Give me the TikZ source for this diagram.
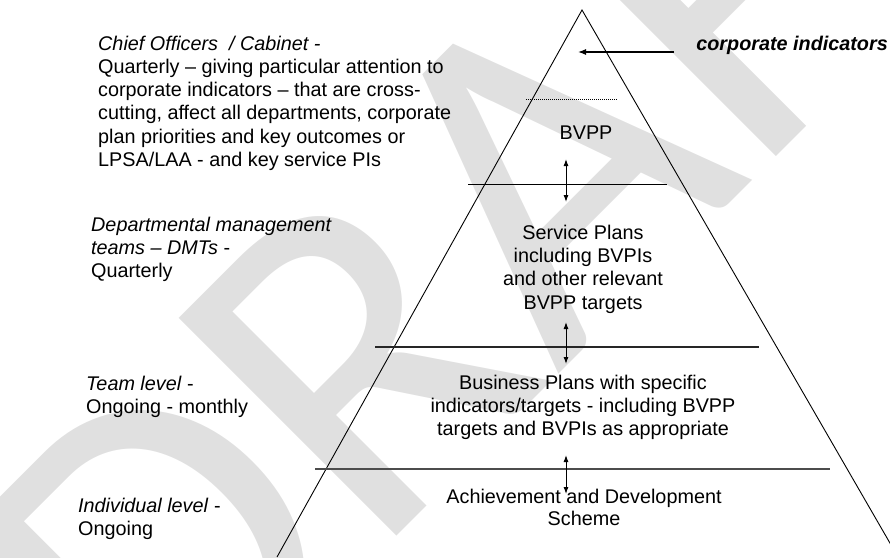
\documentclass[tikz,border=0pt]{standalone}
\usepackage{fontspec}
\setmainfont{Liberation Sans}
\newfontfamily\stampfont{Carlito}
\usetikzlibrary{arrows.meta}
\tikzset{%
  txt/.style    = {inner sep=0pt, font=\fontsize{19.8}{23.3}\selectfont},%
  side/.style   = {txt, anchor=north west, align=left},%
  tier/.style   = {txt, anchor=north, align=center},%
  link/.style   = {line width=1.2pt, -{Latex[length=8pt,width=6pt]}},%
  updown/.style = {line width=1pt, {Latex[length=7pt,width=5pt]}-{Latex[length=7pt,width=5pt]}},%
  stamp/.style  = {inner sep=0pt, anchor=base west, rotate=45, text=black!12,%
                   font=\fontsize{480}{480}\selectfont\stampfont}%
}

\begin{document}
\begin{tikzpicture}[x=1pt, y=-1pt]
  \useasboundingbox (0,0) rectangle (890,557);
  \clip (0,0) rectangle (890,557);

  % watermark behind everything
  \node[stamp] (stamp) at (164,769) {DRAFT};

  % pyramid outline
  \coordinate (apex) at (582,10);
  \coordinate (foot l) at (277,557);
  \coordinate (foot r) at (898,557);
  \draw[line width=0.9pt] (foot l) -- (apex) -- (foot r);

  % tier dividers
  \coordinate (d0 l) at (526,99);  \coordinate (d0 r) at (618,99);
  \coordinate (d1 l) at (468,184); \coordinate (d1 r) at (667,184);
  \coordinate (d2 l) at (375,347); \coordinate (d2 r) at (759,347);
  \coordinate (d3 l) at (315,469); \coordinate (d3 r) at (830,469);
  \draw[line width=0.6pt, dash pattern=on 1pt off 1pt] (d0 l) -- (d0 r);
  \draw[line width=1pt] (d1 l) -- (d1 r);
  \draw[line width=1.3pt, black!85] (d2 l) -- (d2 r);
  \draw[line width=1.8pt, black!70] (d3 l) -- (d3 r);

  % tiers
  \node[txt, anchor=base] (bvpp) at (586,139) {BVPP};
  \node[tier] (service) at (583,224.7) {Service Plans\\ including BVPIs\\ and other relevant\\ BVPP targets};
  \node[tier] (business) at (583,374.7) {Business Plans with specific\\ indicators/targets - including BVPP\\ targets and BVPIs as appropriate};
  \node[tier] (adscheme) at (584,488.7) {Achievement and Development\\[-1.3pt] Scheme};

  % arrows between tiers
  \coordinate (a1 t) at (566,159); \coordinate (a1 b) at (566,202);
  \coordinate (a2 t) at (566,322); \coordinate (a2 b) at (566,364);
  \coordinate (a3 t) at (566,455); \coordinate (a3 b) at (566,494);
  \draw[updown] (a1 t) -- (a1 b);
  \draw[updown] (a2 t) -- (a2 b);
  \draw[updown] (a3 t) -- (a3 b);

  % corporate indicators feed in at the top
  \node[txt, anchor=base east, font=\fontsize{19.8}{23.3}\selectfont\bfseries\itshape] (corp) at (888,50) {corporate indicators};
  \coordinate (corp tip) at (578,52);
  \draw[link] ([shift={(-22pt,-2pt)}]corp.base west) -- (corp tip);

  % who looks at what, and how often
  \node[side] (chief) at (98,35.5) {\textit{Chief Officers~ / Cabinet -}\\
    Quarterly – giving particular attention to\\
    corporate indicators – that are cross-\\
    cutting, affect all departments, corporate\\
    plan priorities and key outcomes or\\
    LPSA/LAA - and key service PIs};
  \node[side] (dmt) at (91,216.5) {\textit{Departmental management}\\
    \textit{teams – DMTs} -\\
    Quarterly};
  \node[side] (team) at (86,375.5) {\textit{Team level} -\\ Ongoing - monthly};
  \node[side] (indiv) at (78,497.5) {\textit{Individual level} -\\ Ongoing};
\end{tikzpicture}
\end{document}
